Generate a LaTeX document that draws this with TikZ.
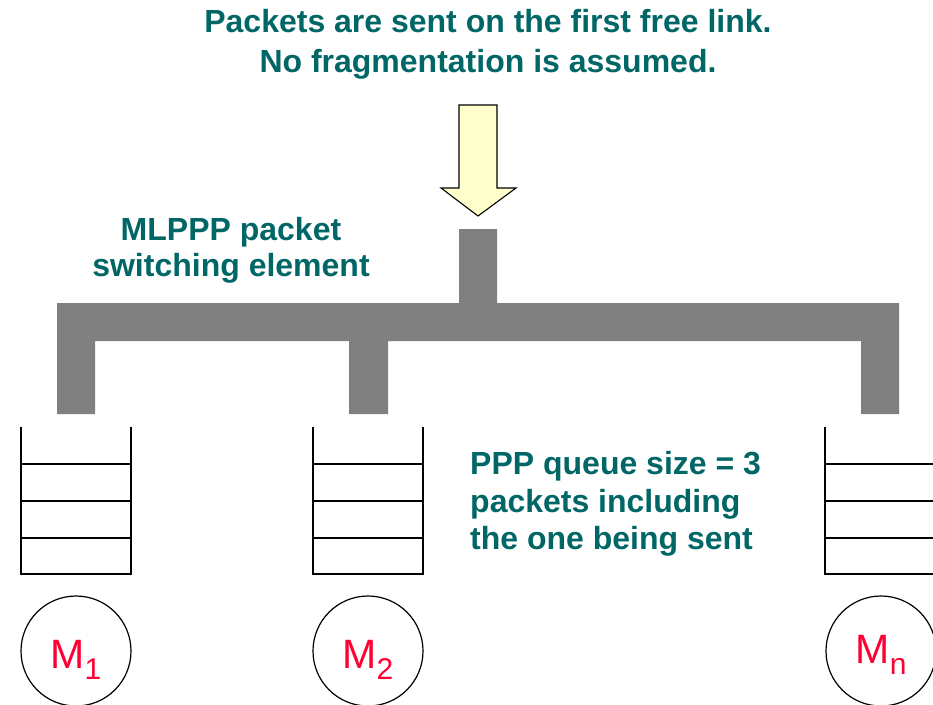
\documentclass[tikz,border=0pt]{standalone}
\usepackage{fontspec}
\setmainfont{Liberation Sans}
\usepackage{xcolor}
\definecolor{label-teal}{HTML}{006666}
\definecolor{machine-red}{HTML}{FF0033}
\definecolor{switch-gray}{HTML}{808080}
\definecolor{arrow-yellow}{HTML}{FFFFCC}

\begin{document}
\begin{tikzpicture}[x=1pt, y=-1pt,
        every node/.style={inner sep=0pt},
        note/.style={text=label-teal, font=\bfseries\fontsize{32}{37.5}\selectfont},
        queue/.style={line width=1.8pt},
        machine/.style={draw, circle, line width=1.2pt, minimum size=110pt,
            text=machine-red, text height=40pt, text depth=6pt,
            font=\fontsize{41}{41}\selectfont}]
      \useasboundingbox (0,0) rectangle (933,704);
      \node[note, align=center, anchor=north,
            font=\bfseries\fontsize{32}{39.5}\selectfont] (title) at (488,9.5)
            {Packets are sent on the first free link.\\No fragmentation is assumed.};
      \draw[fill=arrow-yellow, line width=1.1pt]
            (459,105) -- (497,105) -- (497,188) -- (516,188) -- (478,216)
            -- (441,188) -- (459,188) -- cycle;
      \node[note, align=center, anchor=north,
            font=\bfseries\fontsize{32}{36}\selectfont] (element) at (231,217)
            {MLPPP packet\\switching element};
      \fill[switch-gray] (459,229) rectangle (497,303)
            (57,303) rectangle (899,341)
            (57,341) rectangle (95,414)
            (349,341) rectangle (388,414)
            (861,341) rectangle (899,414);
      \foreach \qx in {21,313,825} {
        \draw[queue] (\qx,427) -- (\qx,574) -- ++(110,0) -- ++(0,-147);
        \foreach \qy in {464,501,538}
          \draw[queue] (\qx,\qy) -- ++(110,0);
      }
      \node[note, align=left, anchor=north west] (qsize) at (470,451.5)
            {PPP queue size = 3\\packets including\\the one being sent};
      \node[machine] (m1) at (76,651) {M\raisebox{-11pt}{\fontsize{30}{30}\selectfont 1}};
      \node[machine] (m2) at (368,651) {M\raisebox{-11pt}{\fontsize{30}{30}\selectfont 2}};
      \node[machine, text depth=16pt] (mn) at (881,651) {M\raisebox{-11pt}{\fontsize{30}{30}\selectfont n}};
    \end{tikzpicture}
\end{document}
